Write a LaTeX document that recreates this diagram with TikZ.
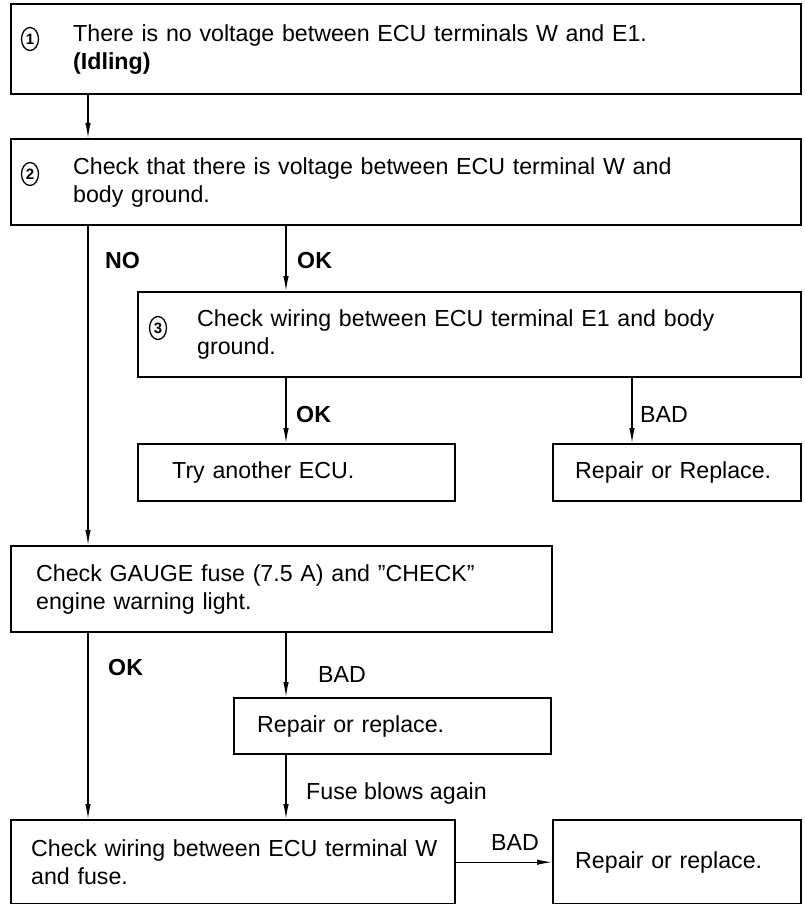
\documentclass[tikz,border=0pt]{standalone}
\usepackage{fontspec}
\setmainfont{Liberation Sans}
\usetikzlibrary{positioning, arrows.meta, shapes.geometric}

\begin{document}
\begin{tikzpicture}[
  x=1pt, y=-1pt,
  font=\fontsize{23.2}{28}\selectfont,
  box/.style={draw, line width=2.4pt, anchor=north west, align=left, inner ysep=0pt},
  num/.style={ellipse, draw, line width=1.3pt, minimum width=17pt, minimum height=23pt, inner sep=0pt, font=\fontsize{15}{15}\selectfont\bfseries},
  arr/.style={line width=1.2pt, -{Latex[length=15pt, width=5.5pt]}},
  lbl/.style={anchor=west, inner sep=0pt},
  okl/.style={lbl, font=\fontsize{23.2}{28}\selectfont\bfseries}
]
\useasboundingbox (0,0) rectangle (804,904);

% columns of the connectors
\coordinate (colL) at (88,0);
\coordinate (colM) at (286,0);
\coordinate (colR) at (632,0);

% steps 1 to 3
\node[box, text width=666pt, inner xsep=62pt, minimum height=90pt] (noVolt) at (10,3)
  {There is no voltage between ECU terminals W and E1.\\ \textbf{(Idling)}};
\node[num] (n1) at (30,39) {1};

\node[box, text width=666pt, inner xsep=62pt, minimum height=86pt] (chkW) at (10,138)
  {Check that there is voltage between ECU terminal W and\\ body ground.};
\node[num] (n2) at (30,174) {2};

\node[box, text width=545pt, inner xsep=59pt, minimum height=85pt] (chkE1) at (137,291)
  {Check wiring between ECU terminal E1 and body\\ ground.};
\node[num] (n3) at (158,328) {3};

\node[box, text width=249pt, inner xsep=34pt, minimum height=57pt] (tryEcu) at (137,443)
  {Try another ECU.};
\node[box, text width=204pt, inner xsep=22pt, minimum height=57pt] (repE1) at (552,443)
  {Repair or Replace.};

% fuse and lamp
\node[box, text width=491pt, inner xsep=25pt, minimum height=86pt] (chkFuse) at (10,545)
  {Check GAUGE fuse (7.5 A) and ''CHECK''\\ engine warning light.};
\node[box, text width=271pt, inner xsep=23pt, minimum height=56pt] (repFuse) at (233,697)
  {Repair or replace.};

\node[box, text width=404pt, inner xsep=20pt, minimum height=84pt] (chkWire) at (10,819)
  {\mbox{Check wiring between ECU terminal W}\\ and fuse.};
\node[box, text width=204pt, inner xsep=22pt, minimum height=84pt] (repWire) at (552,819)
  {Repair or replace.};

% connectors
\draw[arr] (noVolt.south -| colL) -- (chkW.north -| colL);
\draw[arr] (chkW.south -| colL) -- (chkFuse.north -| colL);
\draw[arr] (chkW.south -| colM) -- (chkE1.north -| colM);
\draw[arr] (chkE1.south -| colM) -- (tryEcu.north -| colM);
\draw[arr] (chkE1.south -| colR) -- (repE1.north -| colR);
\draw[arr] (chkFuse.south -| colL) -- (chkWire.north -| colL);
\draw[arr] (chkFuse.south -| colM) -- (repFuse.north -| colM);
\draw[arr] (repFuse.south -| colM) -- (chkWire.north -| colM);
\draw[arr] (chkWire.east) -- (chkWire.east -| repWire.west);

% labels
\node[okl] (lNo) at (105,261) {NO};
\node[okl] (lOk1) at (297,261) {OK};
\node[okl] (lOk2) at (296,415) {OK};
\node[lbl] (lBad1) at (640,415) {BAD};
\node[okl] (lOk3) at (108,668) {OK};
\node[lbl] (lBad2) at (318,675) {BAD};
\node[lbl] (lBlow) at (306,793) {Fuse blows again};
\node[lbl] (lBad3) at (491,843) {BAD};
\end{tikzpicture}
\end{document}
